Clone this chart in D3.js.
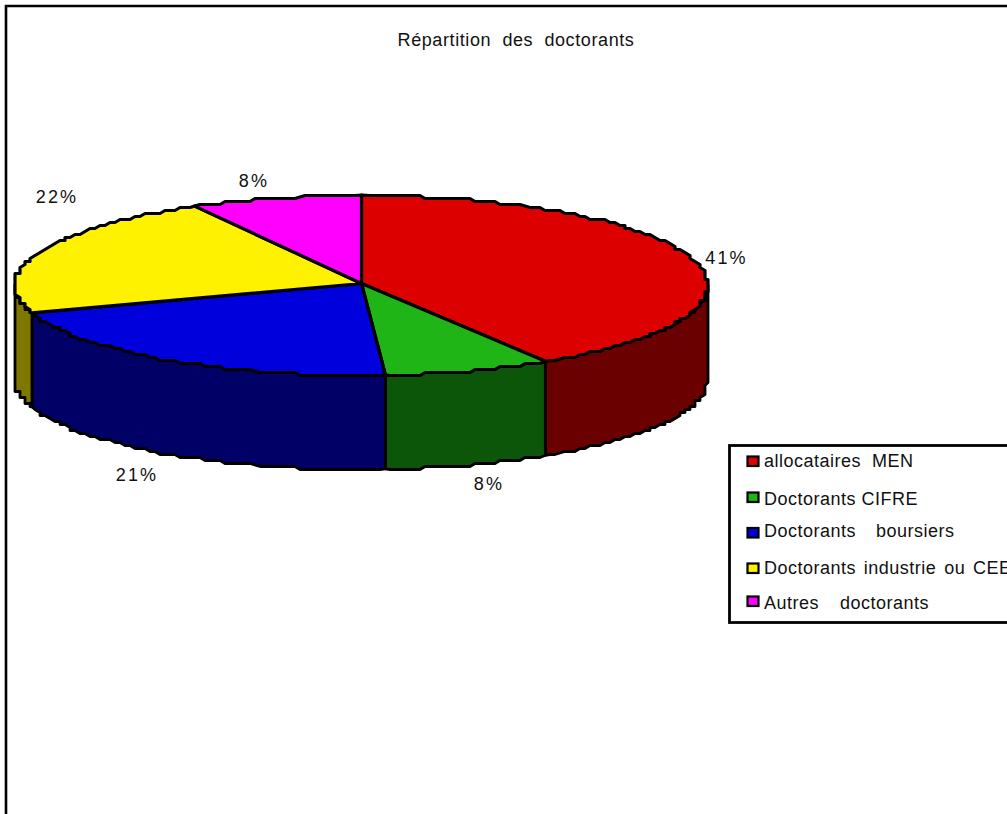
<!DOCTYPE html>
<html><head><meta charset="utf-8">
<script src="https://cdn.jsdelivr.net/npm/d3@7/dist/d3.min.js"></script>
<style>html,body{margin:0;padding:0;background:#fff;overflow:hidden}svg{display:block}
text{font-family:"Liberation Sans",Arial,sans-serif;fill:#111}</style></head>
<body><svg id="c" width="1007" height="814"></svg>
<script>
const categories=["allocataires  MEN","Doctorants CIFRE","Doctorants  boursiers","Doctorants industrie ou CEE","Autres  doctorants"];
const values=[41.1,7.8,21.1,22,8];
const topColors=["#dd0000","#1fb516","#0000dd","#fff200","#ff00ff"];
const sideColors=["#6b0000","#0b5608","#000066","#7f7800","#7f007f"];
const percentLabels=["41%","8%","21%","22%","8%"];

const W=1007,H=814,cx=361.5,cy=285,rx=346.5,ry=90,depth=94;
const svg=d3.select("#c");
svg.append("path").attr("d",`M6,${H}V6H${W}`).attr("fill","none").attr("stroke","#000").attr("stroke-width",2.6);

svg.append("text").attr("x",516).attr("y",46).attr("text-anchor","middle")
 .attr("font-size",18).style("letter-spacing","0.6px").style("white-space","pre").text("Répartition  des  doctorants");

const arcs=d3.pie().sort(null).value(d=>d)(values);
const Qy=3,Qx=5; // stair-stepped outline of the reference
const pt=a=>[cx+rx*Math.sin(a),cy-ry*Math.cos(a)];
const stepPt=a=>{const p=pt(a);return [Math.max(cx-rx,Math.min(cx+rx,Math.round(p[0]/Qx)*Qx)),Math.round(p[1]/Qy)*Qy+0.5]};
const rim=(a0,a1)=>{const n=Math.max(2,Math.ceil((a1-a0)/(Math.PI/150)));
  return d3.range(n+1).map(i=>{const a=a0+(a1-a0)*i/n;return (i==0||i==n)?pt(a):stepPt(a)})};
const line=d3.line();
const half=Math.PI/2;

// walls
const walls=arcs.map((d,i)=>({i,a0:Math.max(d.startAngle,half),a1:Math.min(d.endAngle,3*half)})).filter(d=>d.a1>d.a0);
svg.append("g").selectAll("path").data(walls).join("path")
 .attr("d",d=>{const r=rim(d.a0,d.a1);const b=r.slice().reverse().map(p=>[p[0],p[1]+depth]);return line(r.concat(b))+"Z"})
 .attr("fill",d=>sideColors[d.i]).attr("stroke","#000").attr("stroke-width",2.8).attr("stroke-linejoin","round");

// top faces
const apexY=cy-1.5;
svg.append("g").selectAll("path").data(arcs).join("path")
 .attr("d",d=>line([[cx,apexY]].concat(rim(d.startAngle,d.endAngle)))+"Z")
 .attr("fill",(d,i)=>topColors[i]).attr("stroke","#000").attr("stroke-width",3.2).attr("stroke-linejoin","round");

// percent labels
const labelPos=[[726.5,264],[489,490],[137,481],[57,203],[254,187]];
svg.append("g").selectAll("text").data(percentLabels).join("text")
 .attr("x",(d,i)=>labelPos[i][0]).attr("y",(d,i)=>labelPos[i][1]).attr("text-anchor","middle")
 .attr("font-size",18).style("letter-spacing","2.2px").text(d=>d);

// legend
const swatchY=[461.5,497.5,533,568.5,601.5], legendTextY=[467,505,537,574,609], legendWordGap=[0,0,4.5,2.3,5];
svg.append("rect").attr("x",729.5).attr("y",445.5).attr("width",300).attr("height",177).attr("fill","#fff").attr("stroke","#000").attr("stroke-width",2.8);
const lg=svg.append("g").selectAll("g").data(categories).join("g");
lg.append("rect").attr("x",747.5).attr("y",(d,i)=>swatchY[i]-5).attr("width",11).attr("height",9.5)
 .attr("fill",(d,i)=>topColors[i]).attr("stroke","#000").attr("stroke-width",2.2);
lg.append("text").attr("x",764).attr("y",(d,i)=>legendTextY[i]).attr("font-size",18).style("letter-spacing","0.5px").style("word-spacing",(d,i)=>legendWordGap[i]+"px").style("white-space","pre").text(d=>d);
</script></body></html>
